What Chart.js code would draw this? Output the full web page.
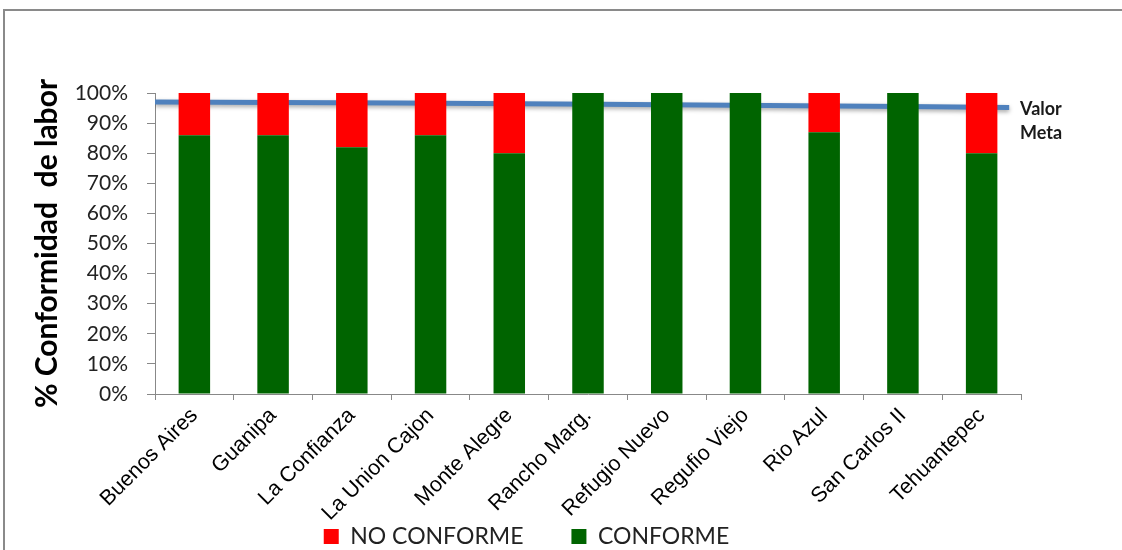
<!DOCTYPE html>
<html>
<head>
<meta charset="utf-8">
<script src="https://cdn.jsdelivr.net/npm/chart.js@4"></script>
<style>
  body { margin: 0; background: #fff; overflow: hidden; }
  #wrap { position: relative; width: 1122px; height: 550px; }
  #marco { position: absolute; left: 3px; top: 9px; width: 1300px; height: 700px;
           border-left: 2px solid #8a8a8a; border-top: 2px solid #8a8a8a; pointer-events: none; }
</style>
</head>
<body>
<div id="wrap">
  <canvas id="myChart" width="1122" height="550"></canvas>
  <div id="marco"></div>
</div>
<script>
// Fincas evaluadas
var fincas = ['Buenos Aires', 'Guanipa', 'La Confianza', 'La Union Cajon', 'Monte Alegre',
  'Rancho Marg.', 'Refugio Nuevo', 'Regufio Viejo', 'Rio Azul', 'San Carlos II', 'Tehuantepec'];
// % de labores conformes y no conformes
var conforme = [86, 86, 82, 86, 80, 100, 100, 100, 87, 100, 80];
var noConforme = [14, 14, 18, 14, 20, 0, 0, 0, 13, 0, 20];
// Valor meta (posicion en categorias, %)
var metaPos = [0, 3.1, 8.2, 10.85];
var metaValor = [97, 96.7, 95.8, 95.2];
var ticksY = [0, 10, 20, 30, 40, 50, 60, 70, 80, 90, 100];

var metaLabel = {
  id: 'metaLabel',
  beforeDatasetDraw: function (chart, args) {
    if (args.index === 2) {
      var ctx = chart.ctx;
      ctx.save();
      ctx.shadowColor = 'rgba(0,0,0,0.35)';
      ctx.shadowBlur = 4;
      ctx.shadowOffsetY = 2;
    }
  },
  afterDatasetDraw: function (chart, args) {
    if (args.index === 2) chart.ctx.restore();
  },
  afterDatasetsDraw: function (chart) {
    var ctx = chart.ctx;
    var y = chart.scales.y.getPixelForValue(metaValor[metaValor.length - 1]);
    ctx.save();
    ctx.font = 'bold 18px Lato';
    ctx.fillStyle = '#1a1a1a';
    ctx.textBaseline = 'middle';
    ctx.fillText('Valor', chart.chartArea.right - 1, y + 2);
    ctx.fillText('Meta', chart.chartArea.right - 1, y + 26);
    ctx.restore();
  }
};

var chart = document.getElementById('myChart').getContext('2d');
var myChart = new Chart(chart, {
  type: 'bar',
  data: {
    labels: fincas,
    datasets: [
      {
        label: 'CONFORME',
        data: conforme,
        backgroundColor: '#006400',
        grouped: false,
        barPercentage: 0.4,
        categoryPercentage: 1.0
      },
      {
        label: 'NO CONFORME',
        data: noConforme,
        backgroundColor: '#ff0000',
        grouped: false,
        barPercentage: 0.4,
        categoryPercentage: 1.0
      },
      {
        type: 'line',
        label: 'Valor Meta',
        data: metaPos.map(function (p, i) { return { x: p, y: metaValor[i] }; }),
        xAxisID: 'xLine',
        borderColor: '#4f81bd',
        borderWidth: 5,
        pointRadius: 0,
        tension: 0.3,
        fill: false
      }
    ]
  },
  options: {
    responsive: false,
    animation: false,
    layout: { padding: { left: 32, right: 101, top: 93, bottom: 0 } },
    plugins: {
      tooltip: { enabled: false },
      legend: {
        position: 'bottom',
        reverse: true,
        maxHeight: 27,
        labels: {
          filter: function (item) { return item.text.indexOf('Valor') < 0; },
          generateLabels: function (c) {
            var items = Chart.defaults.plugins.legend.labels.generateLabels(c);
            items.forEach(function (it) {
              if (it.text === 'NO CONFORME') it.text = it.text + '\u2002\u2002\u2002\u2002';
            });
            return items;
          },
          boxWidth: 15,
          boxHeight: 15,
          padding: 2,
          color: '#222',
          font: { family: 'Lato', size: 23 }
        }
      }
    },
    scales: {
      x: {
        type: 'category',
        stacked: true,
        grid: { drawOnChartArea: false, tickLength: 6, color: '#888', offset: true },
        border: { color: '#888' },
        ticks: {
          autoSkip: false,
          minRotation: 45,
          maxRotation: 45,
          padding: 3,
          color: '#000',
          font: { family: 'Liberation Sans', size: 21.5 }
        },
        afterFit: function (scale) { scale.height = 129; }
      },
      xLine: {
        type: 'linear',
        display: false,
        offset: false,
        min: 0,
        max: 11
      },
      y: {
        stacked: true,
        min: 0,
        max: 100,
        afterBuildTicks: function (scale) {
          scale.ticks = ticksY.map(function (v) { return { value: v }; });
        },
        grid: { drawOnChartArea: false, tickLength: 8, color: '#888' },
        border: { color: '#888' },
        ticks: {
          autoSkip: false,
          padding: 19,
          color: '#222',
          font: { family: 'Lato', size: 21 },
          callback: function (v) { return v + '%'; }
        },
        title: {
          display: true,
          text: '% Conformidad  de labor',
          color: '#000',
          padding: { top: 0, bottom: 0 },
          font: { family: 'Lato', size: 30, weight: 'bold', lineHeight: 1 }
        },
        afterFit: function (scale) { scale.width = 123; }
      }
    }
  },
  plugins: [metaLabel]
});
</script>
</body>
</html>
